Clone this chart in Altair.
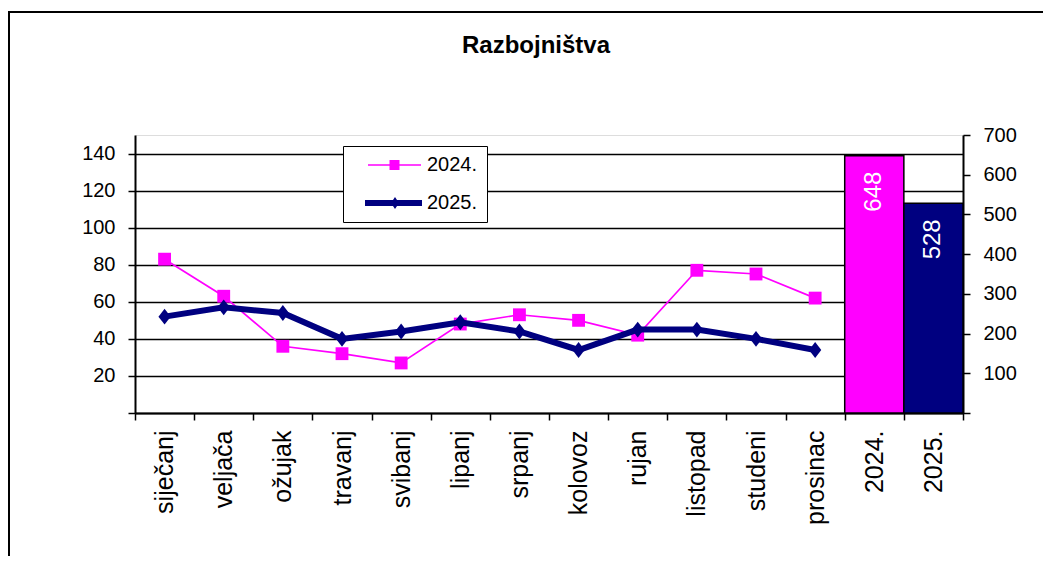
import altair as alt
import pandas as pd

# ---- data ----
months = ['siječanj', 'veljača', 'ožujak', 'travanj', 'svibanj', 'lipanj',
          'srpanj', 'kolovoz', 'rujan', 'listopad', 'studeni', 'prosinac']
v2024 = [83, 63, 36, 32, 27, 48, 53, 50, 42, 77, 75, 62]
v2025 = [52, 57, 54, 40, 44, 49, 44, 34, 45, 45, 40, 34]
series_names = ['2024.', '2025.']
totals = [648, 528]
title_text = 'Razbojništva'

left_ticks = [0, 20, 40, 60, 80, 100, 120, 140]
right_ticks = [0, 100, 200, 300, 400, 500, 600, 700]

MAG = '#FF00FF'
NAVY = '#000080'
FONT = 'Liberation Sans'

x_domain = months + series_names

monthly = pd.DataFrame({
    'month': months * 2,
    'series': [series_names[0]] * len(months) + [series_names[1]] * len(months),
    'value': v2024 + v2025,
})
tot = pd.DataFrame({'month': series_names, 'series': series_names, 'value': totals})

xenc = alt.X('month:N', sort=x_domain,
             scale=alt.Scale(domain=x_domain, paddingInner=0, paddingOuter=0),
             axis=alt.Axis(title=None, labelAngle=270, labelFontSize=25, labelFont=FONT,
                           labelColor='black', tickBand='extent', tickSize=7,
                           tickColor='black', tickWidth=1.5, domainColor='black',
                           domainWidth=2, labelPadding=10, grid=False))

yleft = alt.Y('value:Q', scale=alt.Scale(domain=[0, 150], nice=False),
              axis=alt.Axis(title=None, orient='left', values=left_ticks,
                            labelExpr="datum.value == 0 ? '' : datum.label",
                            labelFontSize=20, labelFont=FONT, labelColor='black',
                            grid=True, gridColor='black', gridWidth=1.6,
                            tickSize=7, tickColor='black', tickWidth=1.5,
                            domainColor='black', domainWidth=2, labelPadding=13))

yright = alt.Y('value:Q', scale=alt.Scale(domain=[0, 700], nice=False),
               axis=alt.Axis(title=None, orient='right', values=right_ticks,
                             labelExpr="datum.value == 0 ? '' : datum.label",
                             labelFontSize=20, labelFont=FONT, labelColor='black',
                             grid=False, tickSize=7, tickColor='black', tickWidth=1.5,
                             domainColor='black', domainWidth=2, labelPadding=13))

base = alt.Chart(monthly)

line24 = base.transform_filter(alt.datum.series == series_names[0]).mark_line(
    color=MAG, strokeWidth=1.7).encode(x=xenc, y=yleft)
pts24 = base.transform_filter(alt.datum.series == series_names[0]).mark_point(
    shape='square', filled=True, color=MAG, size=165, opacity=1).encode(x=xenc, y=yleft)
line25 = base.transform_filter(alt.datum.series == series_names[1]).mark_line(
    color=NAVY, strokeWidth=6).encode(x=xenc, y=yleft)
pts25 = base.transform_filter(alt.datum.series == series_names[1]).mark_point(
    shape='M0,-1.3L1,0L0,1.3L-1,0Z', filled=True, color=NAVY, size=150,
    opacity=1).encode(x=xenc, y=yleft)

# legend symbols: line + marker, in pixel units (symbol size 4 -> scale 1)
path24 = 'M6,-0.8H59V0.8H6Z M27.5,-5H37.5V5H27.5Z'
path25 = 'M3,-3H60V3H3Z M33,-6L37,0L33,6L29,0Z'

NB = '\u00a0'
leg_props = dict(orient='none', legendX=208, legendY=11, title=None,
                 labelFontSize=20, labelFont=FONT, labelColor='black',
                 labelExpr="datum.label + '" + NB * 3 + "'",
                 strokeColor='black', fillColor='white', padding=9,
                 rowPadding=18, symbolSize=4, symbolOpacity=1,
                 symbolStrokeWidth=0, labelOffset=55)

legend_layer = base.mark_point(filled=True, opacity=0, size=4).encode(
    x=xenc, y=yleft,
    color=alt.Color('series:N', scale=alt.Scale(domain=series_names, range=[MAG, NAVY]),
                    legend=alt.Legend(**leg_props)),
    shape=alt.Shape('series:N', scale=alt.Scale(domain=series_names, range=[path24, path25]),
                    legend=alt.Legend(**leg_props)),
)

left_layer = alt.layer(line24, pts24, line25, pts25, legend_layer)

bars = alt.Chart(tot).mark_bar(stroke='black', strokeWidth=1.5).encode(
    x=xenc, y=yright,
    color=alt.condition(alt.datum.month == series_names[0], alt.value(MAG), alt.value(NAVY)))
bar_text = alt.Chart(tot).mark_text(angle=270, align='right', baseline='middle', dx=-16,
                                    color='white', fontSize=24, font=FONT).encode(
    x=xenc, y=yright, text='value:Q')
right_layer = alt.layer(bars, bar_text)

title_layer = alt.Chart(pd.DataFrame({'t': [title_text]})).mark_text(
    fontSize=24, fontWeight='bold', font=FONT, color='black',
    align='center', baseline='alphabetic').encode(
    text='t:N', x=alt.value(401), y=alt.value(-82))

frame = alt.Chart(pd.DataFrame({'f': [0]})).mark_rect(
    fillOpacity=0, stroke='black', strokeWidth=2).encode(
    x=alt.value(-126), x2=alt.value(1000), y=alt.value(-123), y2=alt.value(700))

chart = alt.layer(left_layer, right_layer, title_layer, frame).resolve_scale(
    y='independent').properties(
    width=828, height=278,
    autosize=alt.AutoSizeParams(type='none'),
    padding={'left': 127, 'top': 127, 'right': 80, 'bottom': 143},
).configure_view(stroke='#999999', strokeWidth=1).configure(font=FONT)

chart.save('out.html', embed_options={'renderer': 'svg', 'actions': False})
